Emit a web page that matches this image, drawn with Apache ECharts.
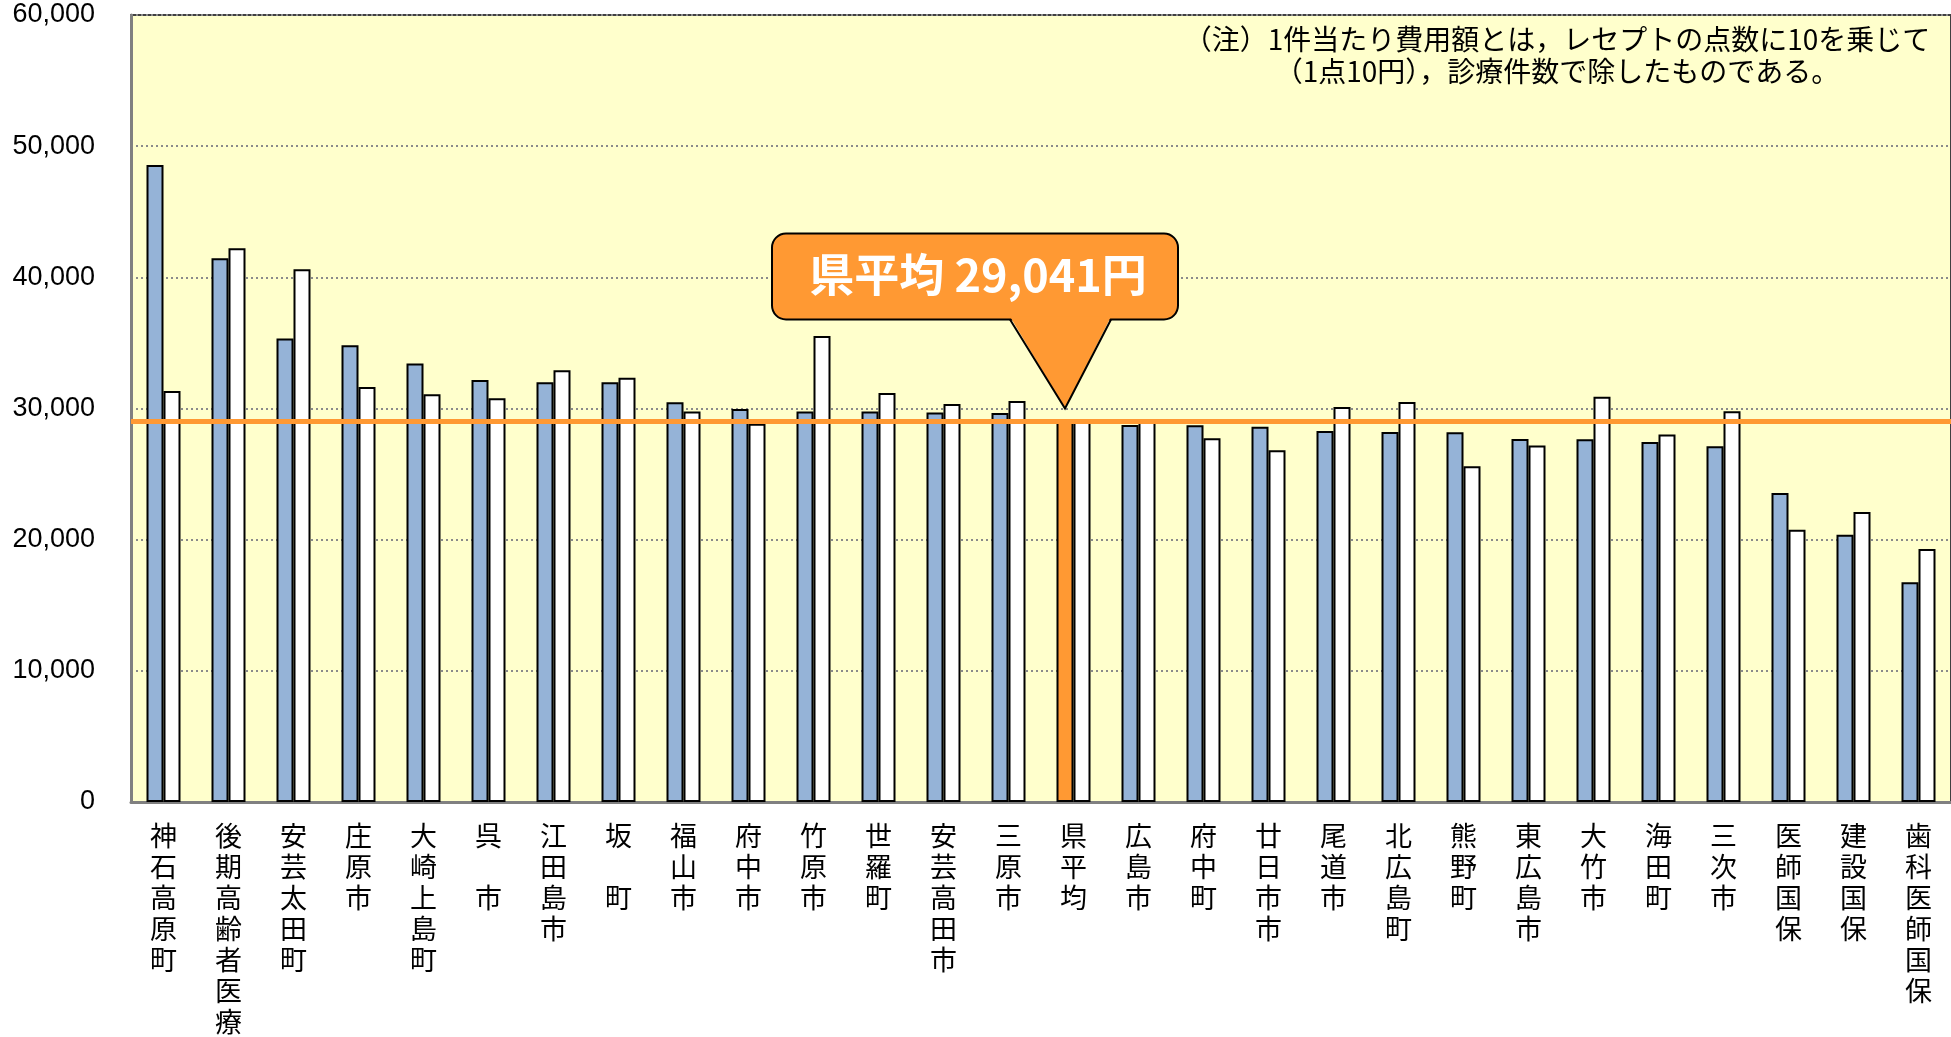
<!DOCTYPE html>
<html>
<head>
<meta charset="utf-8">
<script src="https://cdn.jsdelivr.net/npm/echarts@6/dist/echarts.min.js"></script>
<style>
html,body{margin:0;padding:0;background:#fff;}
#chart{width:1951px;height:1037px;}
</style>
</head>
<body>
<div id="chart"></div>
<script>
// ---- data ----
const categories = ['神石高原町','後期高齢者医療','安芸太田町','庄原市','大崎上島町','呉　市','江田島市','坂　町','福山市','府中市','竹原市','世羅町','安芸高田市','三原市','県平均','広島市','府中町','廿日市市','尾道市','北広島町','熊野町','東広島市','大竹市','海田町','三次市','医師国保','建設国保','歯科医師国保'];
const currentYear = [48570,41450,35340,34830,33430,32180,32010,32010,30480,29970,29770,29770,29690,29660,29041,28750,28730,28600,28290,28210,28190,27680,27660,27450,27120,23560,20380,16760];
const previousYear = [31330,42210,40610,31630,31090,30790,32920,32340,29770,28830,35520,31190,30350,30580,29000,29000,27730,26820,30120,30500,25600,27180,30890,28020,29790,20760,22110,19280];
const averageCategory = '県平均';
const averageValue = 29041;
const averageLabel = '県平均 29,041円';
const yMin = 0, yMax = 60000, yInterval = 10000;
const noteLines = ['（注）1件当たり費用額とは，レセプトの点数に10を乗じて','（1点10円），診療件数で除したものである。'];

// ---- style ----
const BLUE = '#95B3D7', ORANGE = '#FF9933', BG = '#FFFFCC';
const BAR_W = 17;

const chart = echarts.init(document.getElementById('chart'), null, {renderer:'canvas'});

const currentData = currentYear.map((v,i) => categories[i] === averageCategory
  ? {value: v, itemStyle: {color: ORANGE}} : v);

chart.setOption({
  animation: false,
  backgroundColor: '#fff',
  grid: {left: 131, right: -2, top: 15, bottom: 235, show: true,
         backgroundColor: BG, borderColor: '#404040', borderWidth: 2},
  xAxis: {
    type: 'category', data: categories,
    axisLine: {show: true, lineStyle: {color: '#808080', width: 3}},
    axisTick: {show: false},
    axisLabel: {
      interval: 0, color: '#000', fontSize: 27, lineHeight: 31, margin: 18,
      fontFamily: '"Noto Sans CJK JP", sans-serif',
      verticalAlign: 'top',
      formatter: v => v.split('').join('\n')
    }
  },
  yAxis: {
    type: 'value', min: yMin, max: yMax, interval: yInterval,
    axisLine: {show: true, lineStyle: {color: '#808080', width: 3}},
    axisTick: {show: false},
    axisLabel: {color: '#000', fontSize: 27, margin: 36,
      fontFamily: '"Liberation Sans", Arial, sans-serif',
      formatter: v => v.toLocaleString('en-US')},
    splitLine: {show: true, lineStyle: {color: '#8a8a8a', width: 2, type: [2, 3]}}
  },
  series: [
    {type: 'bar', data: currentData, barWidth: BAR_W, barGap: '0%', z: 2,
     itemStyle: {color: BLUE, borderColor: '#000', borderWidth: 2}},
    {type: 'bar', data: previousYear, barWidth: BAR_W, barGap: '0%', z: 2,
     itemStyle: {color: '#fff', borderColor: '#000', borderWidth: 2}},
    {type: 'line', data: [], z: 5, silent: true,
     markLine: {silent: true, symbol: ['none','none'], label: {show: false},
       lineStyle: {color: ORANGE, width: 5, type: 'solid'},
       data: [{yAxis: averageValue}]}}
  ]
});

// ---- callout anchored at the average bar ----
const tip = chart.convertToPixel({xAxisIndex: 0, yAxisIndex: 0}, [averageCategory, 30000]);
const tx = tip[0] - BAR_W / 2, ty = tip[1];
const bx0 = tx - 293, bx1 = tx + 113, by0 = ty - 175, by1 = ty - 89;
const px0 = tx - 55, px1 = tx + 46;

chart.setOption({
  graphic: [
    {type: 'rect', z: 100, shape: {x: bx0, y: by0, width: bx1 - bx0, height: by1 - by0, r: 14},
     style: {fill: ORANGE, stroke: '#000', lineWidth: 2}},
    {type: 'polygon', z: 101, shape: {points: [[px0, by1 - 3], [px1, by1 - 3], [tx, ty]]},
     style: {fill: ORANGE}},
    {type: 'polyline', z: 102, shape: {points: [[px0, by1], [tx, ty], [px1, by1]]},
     style: {stroke: '#000', lineWidth: 2, fill: null}},
    {type: 'text', z: 103, x: tx - 87, y: ty - 134,
     style: {text: averageLabel, fill: '#fff', fontSize: 45, fontWeight: 'bold',
       fontFamily: '"Noto Sans CJK JP", sans-serif',
       align: 'center', verticalAlign: 'middle', textAlign: 'center', textVerticalAlign: 'middle'}},
    {type: 'text', z: 103, x: 1557, y: 23,
     style: {text: noteLines.join('\n'), fill: '#000', fontSize: 28, lineHeight: 32,
       fontFamily: '"Noto Sans CJK JP", sans-serif',
       align: 'center', verticalAlign: 'top', textAlign: 'center', textVerticalAlign: 'top'}}
  ]
});
</script>
</body>
</html>
